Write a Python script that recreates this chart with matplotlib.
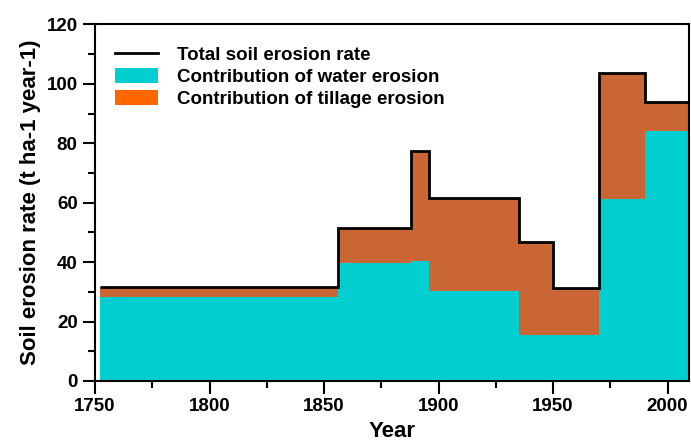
import matplotlib
matplotlib.use("Agg")
import matplotlib.pyplot as plt
from matplotlib.lines import Line2D
from matplotlib.patches import Patch
from matplotlib.ticker import MultipleLocator

plt.rcParams['font.family'] = ['Liberation Sans', 'DejaVu Sans']
plt.rcParams['font.weight'] = 'bold'

# period boundaries (years) and erosion rates per period (t ha-1 year-1)
years = [1752, 1856, 1888, 1896, 1935, 1950, 1970, 1990, 2009]
total = [31.7, 51.4, 77.3, 61.6, 46.6, 31.2, 103.6, 93.9]
water = [28.4, 39.6, 40.4, 30.3, 15.6, 15.6, 61.2, 84.1]

water_col = '#00CED0'
tillage_col = '#C96633'

fig = plt.figure(figsize=(6.91, 4.43), dpi=100)
ax = fig.add_axes([0.1375, 0.140, 0.860, 0.805])

ax.stairs(water, years, baseline=0, fill=True, color=water_col, lw=0)
ax.stairs(total, years, baseline=water, fill=True, color=tillage_col, lw=0)
ax.stairs(total, years, baseline=None, color='black', lw=2)

ax.set_xlim(1750, 2009.5)
ax.set_ylim(0, 120)
ax.xaxis.set_major_locator(MultipleLocator(50))
ax.xaxis.set_minor_locator(MultipleLocator(25))
ax.yaxis.set_major_locator(MultipleLocator(20))
ax.yaxis.set_minor_locator(MultipleLocator(10))
ax.tick_params(which='major', length=9, width=1.5, labelsize=13.5, direction='out')
ax.tick_params(which='minor', length=5, width=1.5, direction='out')
for s in ax.spines.values():
    s.set_linewidth(1.5)

ax.set_xlabel('Year', fontsize=16, fontweight='bold', labelpad=4)
ax.set_ylabel('Soil erosion rate (t ha-1 year-1)', fontsize=16, fontweight='bold', labelpad=4)

handles = [Line2D([], [], color='black', lw=2),
           Patch(facecolor=water_col, edgecolor='none'),
           Patch(facecolor='#FF6600', edgecolor='none')]
labels = ['Total soil erosion rate', 'Contribution of water erosion',
          'Contribution of tillage erosion']
ax.legend(handles, labels, loc='upper left', frameon=False,
          bbox_to_anchor=(0.005, 0.985),
          handlelength=2.3, handleheight=0.8, labelspacing=0.22,
          handletextpad=1.0, prop={'weight': 'bold', 'size': 13.5})

fig.savefig('out.png', dpi=100)
